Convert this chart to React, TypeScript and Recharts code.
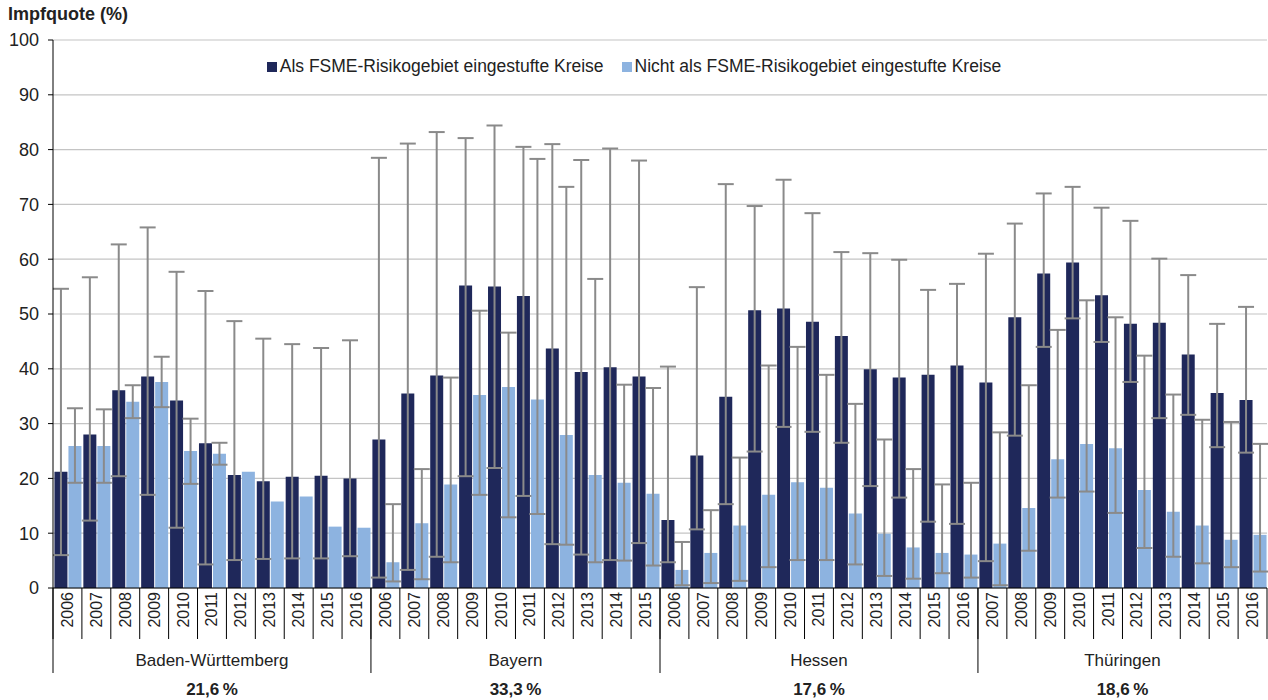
import { BarChart, Bar, XAxis, YAxis, CartesianGrid, ErrorBar, Legend } from 'recharts';

const states = ['Baden-Württemberg', 'Bayern', 'Hessen', 'Thüringen'];
const stateTotals = ['21,6\u202f%', '33,3\u202f%', '17,6\u202f%', '18,6\u202f%'];
const stateYears = [
  [2006, 2007, 2008, 2009, 2010, 2011, 2012, 2013, 2014, 2015, 2016],
  [2006, 2007, 2008, 2009, 2010, 2011, 2012, 2013, 2014, 2015],
  [2006, 2007, 2008, 2009, 2010, 2011, 2012, 2013, 2014, 2015, 2016],
  [2007, 2008, 2009, 2010, 2011, 2012, 2013, 2014, 2015, 2016],
];

// Als FSME-Risikogebiet eingestufte Kreise
const riskValues = [
  [21.2, 28.0, 36.1, 38.6, 34.2, 26.4, 20.6, 19.5, 20.3, 20.5, 20.0],
  [27.1, 35.5, 38.8, 55.2, 55.0, 53.3, 43.7, 39.4, 40.3, 38.6],
  [12.4, 24.2, 34.9, 50.7, 51.0, 48.6, 46.0, 39.9, 38.4, 38.9, 40.6],
  [37.5, 49.4, 57.4, 59.4, 53.4, 48.2, 48.4, 42.6, 35.6, 34.3],
];
const riskLow = [
  [6.0, 12.3, 20.4, 17.0, 11.0, 4.3, 5.1, 5.3, 5.4, 5.4, 5.8],
  [1.9, 3.3, 5.7, 20.4, 21.9, 16.8, 8.0, 6.1, 5.1, 8.2],
  [4.7, 10.7, 15.3, 24.9, 29.4, 28.5, 26.5, 18.6, 16.5, 12.1, 11.7],
  [4.9, 27.8, 44.0, 49.2, 44.9, 37.6, 31.0, 31.6, 25.7, 24.7],
];
const riskHigh = [
  [54.6, 56.7, 62.7, 65.8, 57.7, 54.2, 48.7, 45.5, 44.5, 43.8, 45.2],
  [78.5, 81.1, 83.2, 82.1, 84.4, 80.5, 81.0, 78.1, 80.2, 78.0],
  [40.4, 54.9, 73.7, 69.7, 74.5, 68.4, 61.3, 61.1, 59.9, 54.4, 55.5],
  [61.0, 66.5, 72.0, 73.2, 69.4, 67.0, 60.1, 57.1, 48.2, 51.3],
];

// Nicht als FSME-Risikogebiet eingestufte Kreise
const otherValues = [
  [25.9, 25.9, 34.0, 37.6, 25.0, 24.5, 21.2, 15.8, 16.7, 11.2, 11.0],
  [4.7, 11.8, 18.9, 35.2, 36.7, 34.4, 27.9, 20.6, 19.2, 17.2],
  [3.3, 6.4, 11.4, 17.0, 19.3, 18.3, 13.6, 9.9, 7.4, 6.4, 6.1],
  [8.1, 14.6, 23.5, 26.3, 25.5, 17.9, 13.9, 11.4, 8.8, 9.7],
];
const otherLow = [
  [19.2, 19.2, 31.0, 33.0, 19.0, 22.5, null, null, null, null, null],
  [1.2, 1.6, 4.7, 17.0, 12.9, 13.5, 7.9, 4.7, 5.0, 4.1],
  [0.5, 0.9, 1.3, 3.8, 5.1, 5.1, 4.3, 2.2, 1.7, 2.7, 1.9],
  [0.5, 6.8, 16.5, 17.6, 13.7, 7.3, 5.7, 4.5, 3.8, 3.0],
];
const otherHigh = [
  [32.8, 32.6, 37.0, 42.2, 30.9, 26.5, null, null, null, null, null],
  [15.3, 21.7, 38.4, 50.6, 46.6, 78.3, 73.2, 56.4, 37.1, 36.5],
  [8.4, 14.2, 23.8, 40.6, 44.0, 38.9, 33.6, 27.1, 21.7, 18.9, 19.2],
  [28.4, 37.0, 47.1, 52.5, 49.4, 42.4, 35.3, 30.7, 30.3, 26.3],
];

const yTicks = [0, 10, 20, 30, 40, 50, 60, 70, 80, 90, 100];

const DARK = '#1f285a';
const LIGHT = '#8db3e0';
const ERR = '#8a8a8a';
const FONT = '"Liberation Sans", Arial, sans-serif';

const W = 1268;
const H = 700;
const PLOT_LEFT = 53;
const PLOT_RIGHT = 1267;

type Row = {
  key: string;
  year: number;
  stateIdx: number;
  posInState: number;
  risk: number;
  riskErr: [number, number];
  other: number;
  otherErr: [number, number] | null;
};

const data: Row[] = [];
states.forEach((_, s) => {
  stateYears[s].forEach((year, i) => {
    const lo = otherLow[s][i];
    const hi = otherHigh[s][i];
    data.push({
      key: `${s}-${year}`,
      year,
      stateIdx: s,
      posInState: i,
      risk: riskValues[s][i],
      riskErr: [riskValues[s][i] - riskLow[s][i], riskHigh[s][i] - riskValues[s][i]],
      other: otherValues[s][i],
      otherErr: lo == null || hi == null ? null : [otherValues[s][i] - lo, hi - otherValues[s][i]],
    });
  });
});

const bw = (PLOT_RIGHT - PLOT_LEFT) / data.length;

function YearTick(props: any) {
  const { x, y, index } = props;
  const row = data[index];
  if (!row) return null;
  const left = x - bw / 2;
  const n = stateYears[row.stateIdx].length;
  return (
    <g>
      <line x1={left} y1={y} x2={left} y2={y + 51} stroke="#000" strokeWidth={1} />
      {index === data.length - 1 && (
        <line x1={x + bw / 2} y1={y} x2={x + bw / 2} y2={y + 51} stroke="#000" strokeWidth={1} />
      )}
      <text
        transform={`translate(${x},${y + 4}) rotate(-90)`}
        textAnchor="end"
        dominantBaseline="central"
        fontSize={16}
        fill="#222"
        fontFamily={FONT}
      >
        {row.year}
      </text>
      {row.posInState === 0 && (
        <g>
          <line x1={left} y1={y} x2={left} y2={y + 85} stroke="#000" strokeWidth={1} />
          <text
            x={left + (n * bw) / 2}
            y={y + 78}
            textAnchor="middle"
            fontSize={17}
            fill="#222"
            fontFamily={FONT}
          >
            {states[row.stateIdx]}
          </text>
          <text
            x={left + (n * bw) / 2}
            y={y + 107}
            textAnchor="middle"
            fontSize={17}
            fontWeight="bold"
            fill="#222"
            fontFamily={FONT}
          >
            {stateTotals[row.stateIdx]}
          </text>
        </g>
      )}
    </g>
  );
}

function LegendContent() {
  const items = [
    { label: 'Als FSME-Risikogebiet eingestufte Kreise', color: DARK },
    { label: 'Nicht als FSME-Risikogebiet eingestufte Kreise', color: LIGHT },
  ];
  return (
    <div style={{ display: 'flex', justifyContent: 'center', gap: 18, fontFamily: FONT, fontSize: 17.5, color: '#222' }}>
      {items.map((it) => (
        <div key={it.label} style={{ display: 'flex', alignItems: 'center' }}>
          <span style={{ display: 'inline-block', width: 10, height: 10, background: it.color, marginRight: 3 }} />
          <span>{it.label}</span>
        </div>
      ))}
    </div>
  );
}

export default function App() {
  return (
    <div style={{ position: 'absolute', left: 0, top: 0, width: W, height: H, background: '#fff' }}>
      <div
        style={{
          position: 'absolute',
          left: 8,
          top: 4,
          fontFamily: FONT,
          fontWeight: 'bold',
          fontSize: 18,
          color: '#222',
        }}
      >
        Impfquote (%)
      </div>
      <BarChart
        width={W}
        height={H}
        data={data}
        margin={{ top: 40, right: W - PLOT_RIGHT, bottom: 0, left: 0 }}
        barCategoryGap="5%"
        barGap={1}
      >
        <CartesianGrid vertical={false} stroke="#c4c4c4" strokeWidth={1.2} />
        <XAxis
          dataKey="key"
          interval={0}
          height={112}
          tickLine={false}
          tickSize={0}
          tickMargin={0}
          axisLine={{ stroke: '#000' }}
          tick={<YearTick />}
        />
        <YAxis
          domain={[0, 100]}
          ticks={yTicks}
          width={PLOT_LEFT}
          tickSize={5}
          tickMargin={9}
          axisLine={{ stroke: '#000' }}
          tickLine={{ stroke: '#000' }}
          tick={{ fontSize: 18, fill: '#222', fontFamily: FONT }}
        />
        <Legend
          layout="horizontal"
          verticalAlign="middle"
          align="center"
          wrapperStyle={{ top: 56, left: 0, width: W }}
          content={<LegendContent />}
        />
        <Bar dataKey="risk" fill={DARK} isAnimationActive={false}>
          <ErrorBar dataKey="riskErr" width={8} stroke={ERR} strokeWidth={2} direction="y" />
        </Bar>
        <Bar dataKey="other" fill={LIGHT} isAnimationActive={false}>
          <ErrorBar dataKey="otherErr" width={8} stroke={ERR} strokeWidth={2} direction="y" />
        </Bar>
      </BarChart>
    </div>
  );
}
